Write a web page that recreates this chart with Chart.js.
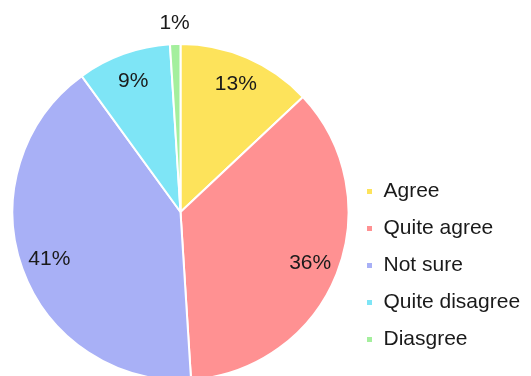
<!DOCTYPE html>
<html>
<head>
<meta charset="utf-8">
<script src="https://cdn.jsdelivr.net/npm/chart.js@4"></script>
<style>
  html, body { margin: 0; padding: 0; background: #fff; overflow: hidden; }
  #wrap { width: 531px; height: 376px; }
  canvas { display: block; }
</style>
</head>
<body>
<div id="wrap"><canvas id="myChart"></canvas></div>
<script>
const labels = ['Agree', 'Quite agree', 'Not sure', 'Quite disagree', 'Diasgree'];
const values = [13, 36, 41, 9, 1];
const colors = ['#fde35b', '#ff9192', '#a8b0f6', '#7ee5f6', '#a4ef9d'];

// percentage labels: inside the slice, or above it when the slice is tiny
const sliceLabels = {
    id: 'sliceLabels',
    afterDatasetsDraw(chart) {
        const ctx = chart.ctx;
        const meta = chart.getDatasetMeta(0);
        ctx.save();
        ctx.font = '21px "Liberation Sans", Arial, sans-serif';
        ctx.fillStyle = '#1a1a1a';
        ctx.textAlign = 'center';
        ctx.textBaseline = 'middle';
        meta.data.forEach((arc, i) => {
            const mid = (arc.startAngle + arc.endAngle) / 2;
            const r = values[i] < 3 ? arc.outerRadius + 21 : arc.outerRadius * 0.83;
            ctx.fillText(values[i] + '%', arc.x + Math.cos(mid) * r, arc.y + Math.sin(mid) * r);
        });
        ctx.restore();
    }
};

// fixed legend width, and the legend column sits a bit above the bottom edge
const legendBox = {
    id: 'legendBox',
    beforeInit(chart) {
        const fit = chart.legend.fit;
        chart.legend.fit = function () {
            fit.bind(chart.legend)();
            this.width = 181;
        };
    },
    afterLayout(chart) {
        chart.legend.bottom = 366;
    }
};

const ctx = document.getElementById('myChart').getContext('2d');
new Chart(ctx, {
    type: 'pie',
    data: {
        labels: labels,
        datasets: [{
            data: values,
            backgroundColor: colors,
            borderColor: '#ffffff',
            borderWidth: 2,
            radius: 168
        }]
    },
    options: {
        responsive: true,
        maintainAspectRatio: false,
        animation: false,
        layout: { padding: { left: 11, right: 0, top: 48, bottom: 0 } },
        plugins: {
            tooltip: { enabled: false },
            legend: {
                position: 'right',
                align: 'end',
                labels: {
                    boxWidth: 7,
                    boxHeight: 7,
                    padding: 16,
                    color: '#1a1a1a',
                    font: { size: 21, family: '"Liberation Sans", Arial, sans-serif' }
                }
            }
        }
    },
    plugins: [sliceLabels, legendBox]
});
</script>
</body>
</html>
